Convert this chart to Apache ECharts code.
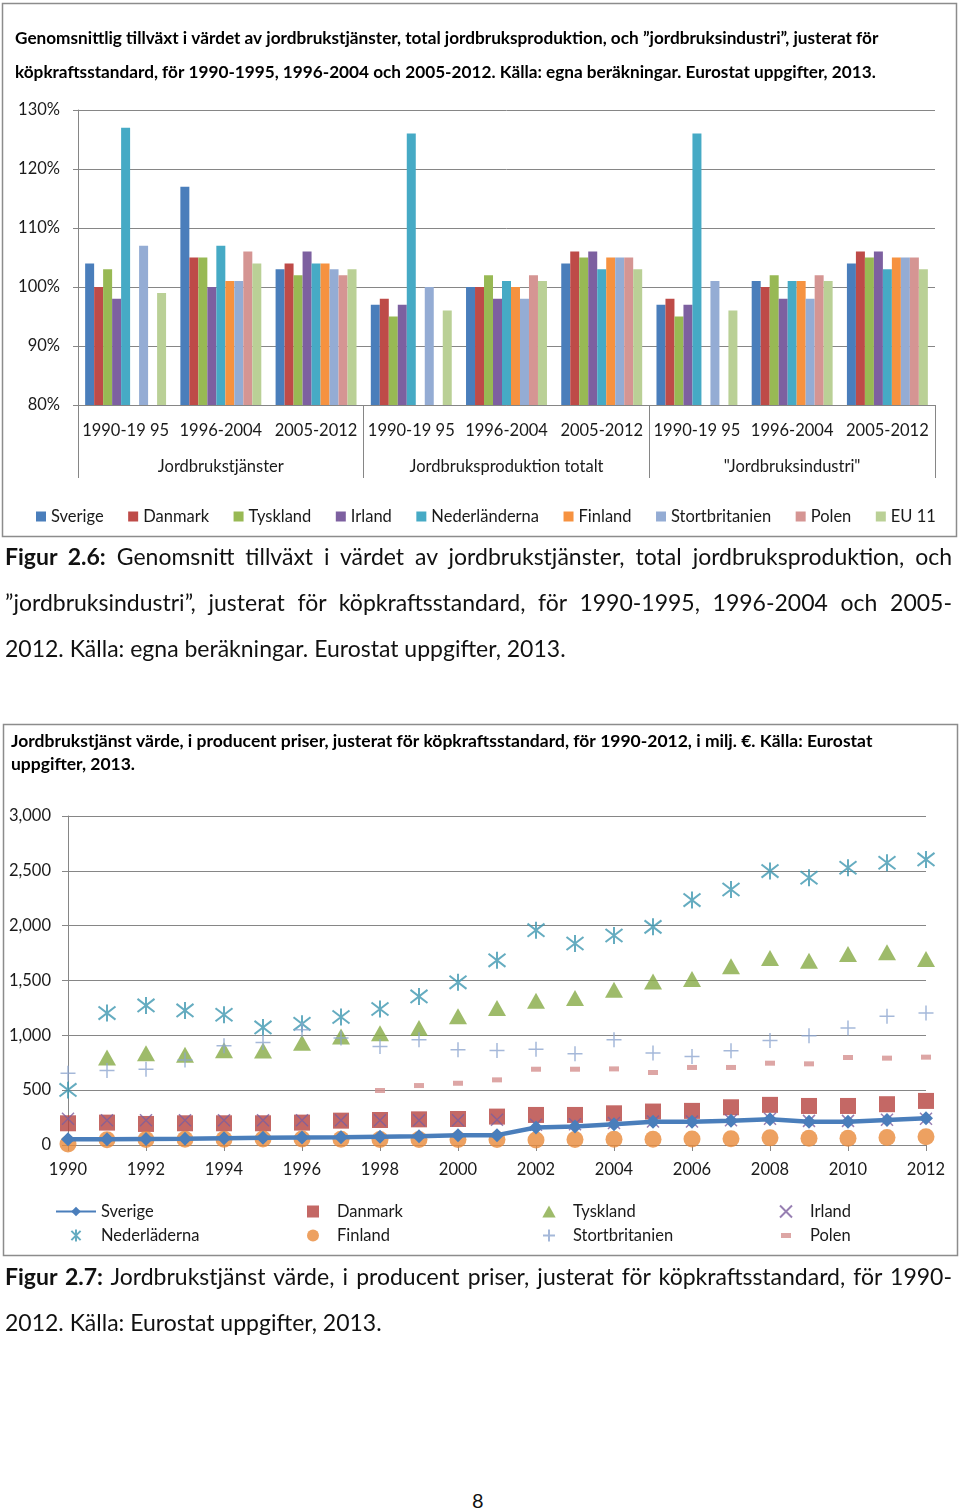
<!DOCTYPE html>
<html><head><meta charset="utf-8">
<script src="https://cdn.jsdelivr.net/npm/echarts@6/dist/echarts.min.js"></script>
<style>
html,body{margin:0;padding:0;background:#fff;}
#c1{position:absolute;left:0;top:0;width:960px;height:545px;}
#c2{position:absolute;left:0;top:700px;width:960px;height:570px;}
.cap{position:absolute;left:5px;width:947px;font-family:Lato,"Open Sans",sans-serif;font-size:23px;color:#111;}
.cap div{height:46px;line-height:46px;white-space:nowrap;}
.cap .j{text-align:justify;text-align-last:justify;white-space:normal;}
.cap b{font-weight:bold;}
#pg{position:absolute;left:472px;top:1488px;font-family:Lato,sans-serif;font-size:20px;color:#111;}
</style></head>
<body>
<div id="c1"></div>
<div id="c2"></div>
<div class="cap" style="top:533px">
<div class="j"><b>Figur 2.6:</b> Genomsnitt tillväxt i värdet av jordbrukstjänster, total jordbruksproduktion, och</div>
<div class="j">”jordbruksindustri”, justerat för köpkraftsstandard, för 1990-1995, 1996-2004 och 2005-</div>
<div>2012. Källa: egna beräkningar. Eurostat uppgifter, 2013.</div>
</div>
<div class="cap" style="top:1253px">
<div class="j"><b>Figur 2.7:</b> Jordbrukstjänst värde, i producent priser, justerat för köpkraftsstandard, för 1990-</div>
<div>2012. Källa: Eurostat uppgifter, 2013.</div>
</div>
<div id="pg">8</div>
<script>
// ---------- Chart 1 data ----------
const barCategories = ['1990-19 95','1996-2004','2005-2012','1990-19 95','1996-2004','2005-2012','1990-19 95','1996-2004','2005-2012'];
const barGroups = ['Jordbrukstjänster','Jordbruksproduktion totalt','"Jordbruksindustri"'];
const barSeriesNames = ['Sverige','Danmark','Tyskland','Irland','Nederländerna','Finland','Stortbritanien','Polen','EU 11'];
const sverigeBars        = [104,117,103, 97,100,104, 97,101,104];
const danmarkBars        = [100,105,104, 98,100,106, 98,100,106];
const tysklandBars       = [103,105,102, 95,102,105, 95,102,105];
const irlandBars         = [ 98,100,106, 97, 98,106, 97, 98,106];
const nederlandernaBars  = [127,107,104,126,101,103,126,101,103];
const finlandBars        = [null,101,104,null,100,105,null,101,105];
const stortbritanienBars = [107,101,103,100, 98,105,101, 98,105];
const polenBars          = [null,106,102,null,102,105,null,102,105];
const eu11Bars           = [ 99,104,103, 96,101,103, 96,101,103];
const barYTicks = [80, 130, 10];

// ---------- Chart 2 data ----------
const years = ['1990','1991','1992','1993','1994','1995','1996','1997','1998','1999','2000','2001','2002','2003','2004','2005','2006','2007','2008','2009','2010','2011','2012'];
const sverigeVals        = [52,52,55,58,62,65,68,70,75,80,88,90,160,168,189,213,213,222,234,213,213,228,244];
const danmarkVals        = [198,204,192,198,198,198,204,222,228,234,237,259,274,274,289,305,311,344,366,356,356,372,402];
const tysklandVals       = [null,798,837,822,865,862,932,990,1020,1066,1173,1249,1316,1340,1416,1492,1514,1630,1706,1681,1742,1758,1697];
const irlandVals         = [240,225,225,225,225,225,225,225,225,225,225,230,185,190,200,215,215,225,240,220,220,230,240];
const nederlandernaVals  = [502,1203,1273,1227,1188,1072,1105,1167,1240,1355,1483,1684,1959,1837,1910,1989,2233,2330,2498,2437,2528,2574,2604];
const finlandVals        = [10,48,50,52,52,55,55,52,50,50,50,50,46,50,52,52,55,58,65,62,62,68,75];
const stortbritanienVals = [655,679,691,776,904,935,1050,975,898,959,868,862,874,832,959,838,807,859,953,996,1066,1173,1203];
const polenVals          = [null,null,null,null,null,null,null,null,497,542,563,594,691,691,694,661,707,707,746,740,798,792,801];
const lineYTicks = [0, 3000, 500];

const FONT = 'Lato, "Open Sans", sans-serif';
const GRID = '#868686';
const TXT = '#1a1a1a';

// ---------- Chart 1 ----------
const barColors = ['#4a7ebb','#be4b48','#98b954','#7d60a0','#46aac5','#f69240','#94acd4','#d59593','#bad096'];
const barData = [sverigeBars,danmarkBars,tysklandBars,irlandBars,nederlandernaBars,finlandBars,stortbritanienBars,polenBars,eu11Bars];

const c1 = echarts.init(document.getElementById('c1'));
c1.setOption({
  animation:false,
  textStyle:{fontFamily:FONT},
  title:{
    text:'Genomsnittlig tillväxt i värdet av jordbrukstjänster, total jordbruksproduktion, och ”jordbruksindustri”, justerat för\nköpkraftsstandard, för 1990-1995, 1996-2004 och 2005-2012. Källa: egna beräkningar. Eurostat uppgifter, 2013.',
    left:10, top:16,
    textStyle:{fontFamily:FONT,fontSize:17.2,fontWeight:'bold',color:'#000',lineHeight:34}
  },
  graphic:[{type:'rect',shape:{x:2.5,y:3.5,width:954,height:533},style:{fill:'none',stroke:'#8c8c8c',lineWidth:1.5},silent:true}],
  legend:{
    data:barSeriesNames, left:31, top:503, icon:'rect', itemWidth:10, itemHeight:10, itemGap:24.5,
    textStyle:{fontFamily:FONT,fontSize:16.5,color:TXT}
  },
  grid:{left:78,right:25,top:110,bottom:140},
  xAxis:[
    {type:'category',data:barCategories,axisTick:{show:false},
     axisLine:{lineStyle:{color:GRID}},
     axisLabel:{interval:0,margin:17,fontSize:16.5,color:TXT,fontFamily:FONT}},
    {type:'category',data:barGroups,position:'bottom',offset:0,
     axisLine:{show:false},
     axisTick:{show:true,length:73,interval:0,lineStyle:{color:GRID}},
     axisLabel:{interval:0,margin:53,fontSize:16.5,color:TXT,fontFamily:FONT}}
  ],
  yAxis:{type:'value',min:barYTicks[0],max:barYTicks[1],interval:barYTicks[2],
    axisLine:{show:true,lineStyle:{color:GRID}},
    axisTick:{show:true,length:5,lineStyle:{color:GRID}},
    splitLine:{lineStyle:{color:GRID}},
    axisLabel:{formatter:'{value}%',margin:18,fontSize:16.5,color:TXT,fontFamily:FONT}},
  series: barSeriesNames.map((n,i)=>({
    name:n,type:'bar',data:barData[i],barGap:'0%',barCategoryGap:'15%',
    itemStyle:{color:barColors[i]}
  }))
});

// ---------- Chart 2 ----------
const pX = 'path://M0,0L10,10M0,10L10,0';
const pAst = 'path://M0,0L10,10M0,10L10,0M5,-1.5L5,11.5';
const pPlus = 'path://M5,0L5,10M0,5L10,5';
const pDash = 'path://M0,0M20,12M5,3.5L15,3.5L15,8.5L5,8.5Z';
const pSquare = 'path://M0,0L10,0L10,10L0,10Z';
const pTri = 'path://M5,0L10,9L0,9Z';
function pairs(vals){return vals.map((v,i)=>[years[i],v]).filter(d=>d[1]!==null);}
function sc(name,vals,symbol,size,color,stroke){
  return {name,type:'scatter',data:pairs(vals),symbol,symbolSize:size,
    itemStyle: stroke ? {color:'transparent',borderColor:color,borderWidth:stroke} : {color}};
}
const legendText = {fontFamily:FONT,fontSize:16.5,color:TXT,lineHeight:16};
function lg(names,left){
  return {data:names,orient:'vertical',left,top:498,itemWidth:38,itemHeight:12,itemGap:7,textStyle:legendText};
}
const c2 = echarts.init(document.getElementById('c2'));
c2.setOption({
  animation:false,
  textStyle:{fontFamily:FONT},
  title:{
    text:'Jordbrukstjänst värde, i producent priser, justerat för köpkraftsstandard, för 1990-2012, i milj. €. Källa: Eurostat\nuppgifter, 2013.',
    left:6, top:24.5,
    textStyle:{fontFamily:FONT,fontSize:17.5,fontWeight:'bold',color:'#000',lineHeight:23}
  },
  graphic:[{type:'rect',shape:{x:3.5,y:24.5,width:954,height:531},style:{fill:'none',stroke:'#8c8c8c',lineWidth:1.5},silent:true}],
  legend:[
    Object.assign(lg(['Sverige','Nederläderna'],50),{itemWidth:40}),
    lg(['Danmark','Finland'],302),
    lg(['Tyskland','Stortbritanien'],537),
    lg(['Irland','Polen'],771)
  ],
  grid:{left:68,right:34,top:116,bottom:125},
  xAxis:{type:'category',data:years,boundaryGap:false,
    axisLine:{lineStyle:{color:GRID}},
    axisTick:{show:true,interval:1,length:6,lineStyle:{color:GRID}},
    axisLabel:{interval:1,margin:16,fontSize:16.5,color:TXT,fontFamily:FONT}},
  yAxis:{type:'value',min:lineYTicks[0],max:lineYTicks[1],interval:lineYTicks[2],
    axisLine:{show:true,lineStyle:{color:GRID}},
    axisTick:{show:true,length:6,lineStyle:{color:GRID}},
    splitLine:{lineStyle:{color:GRID}},
    axisLabel:{formatter:v=>v.toLocaleString('en-US'),margin:17,fontSize:16.5,color:TXT,fontFamily:FONT}},
  series:[
    {name:'Sverige',type:'line',data:pairs(sverigeVals),symbol:'diamond',symbolSize:14,
      lineStyle:{width:4.5,color:'#4a7ebb'},itemStyle:{color:'#4a7ebb'}},
    sc('Danmark',danmarkVals,pSquare,16,'#b5423f'),
    sc('Tyskland',tysklandVals,pTri,[18,16],'#86aa45'),
    sc('Irland',irlandVals,pX,12,'#7d5f9f',1.5),
    sc('Nederläderna',nederlandernaVals,pAst,17,'#3f97b0',2),
    sc('Finland',finlandVals,'circle',17,'#e88a3a'),
    sc('Stortbritanien',stortbritanienVals,pPlus,15,'#8ea6cf',1.5),
    sc('Polen',polenVals,pDash,[20,12],'#d4908f')
  ]
});
</script>
</body></html>
